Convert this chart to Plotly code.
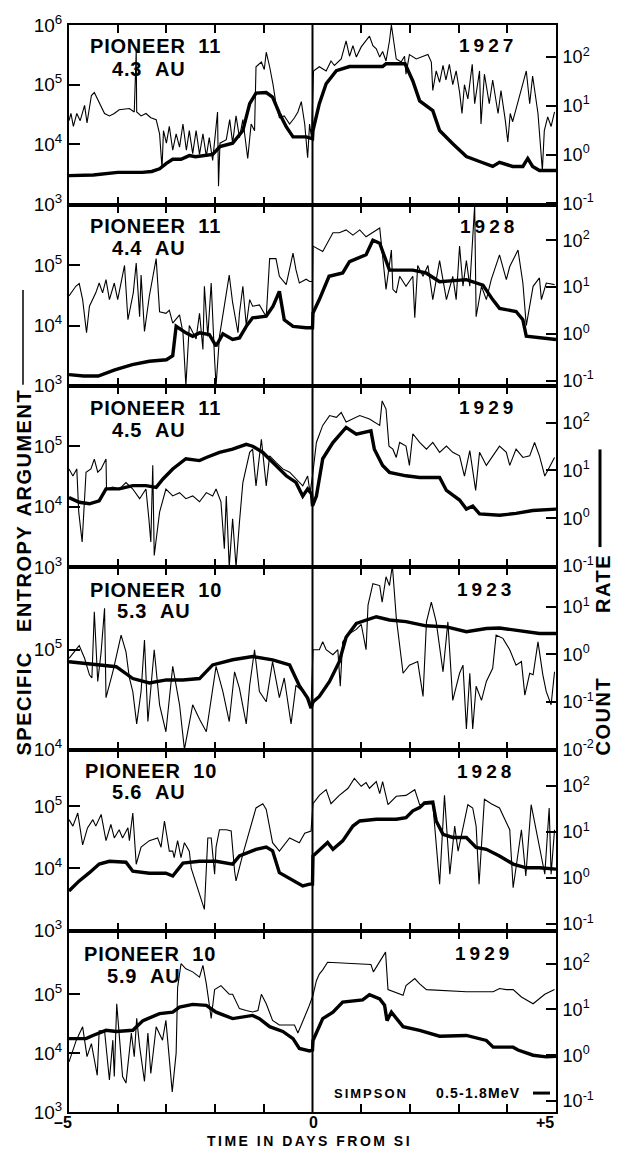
import plotly.graph_objects as go

# ---------------- data ----------------
craft = ["PIONEER 11", "PIONEER 11", "PIONEER 11", "PIONEER 10", "PIONEER 10", "PIONEER 10"]
dist = ["4.3  AU", "4.4  AU", "4.5  AU", "5.3  AU", "5.6  AU", "5.9  AU"]
years = ["1927", "1928", "1929", "1923", "1928", "1929"]

left_exps = [[3, 4, 5, 6], [3, 4, 5], [3, 4, 5], [4, 5], [3, 4, 5], [3, 4, 5]]
right_exps = [[-1, 0, 1, 2], [-1, 0, 1, 2], [-1, 0, 1, 2], [-2, -1, 0, 1], [-1, 0, 1, 2], [-1, 0, 1, 2]]
x_labels = ["\u20135", "0", "+5"]

# (days from SI, specific entropy argument)  -- thin line, left axis
p1_entropy = [(-5.0,2.5e4),(-4.96,3.3e4),(-4.91,2e4),(-4.84,3.3e4),(-4.77,2.5e4),(-4.68,4.5e4),(-4.63,2.3e4),(-4.54,6.6e4),(-4.48,7.4e4),(-4.37,4.8e4),(-4.27,3.3e4),(-4.17,3e4),(-4.07,3.3e4),(-3.97,3.8e4),(-3.76,4e4),(-3.66,3.5e4),(-3.62,3.7e5),(-3.61,3.5e4),(-3.52,3e4),(-3.42,3.3e4),(-3.32,2.8e4),(-3.21,2.6e4),(-3.14,1.5e4),(-3.09,4e3),(-3.06,1.7e4),(-3.0,1.05e4),(-2.94,2e4),(-2.87,8e3),(-2.8,1.5e4),(-2.73,9e3),(-2.66,2.2e4),(-2.59,8e3),(-2.53,1.7e4),(-2.46,7e3),(-2.39,1.7e4),(-2.32,6.8e3),(-2.25,1.5e4),(-2.18,6.3e3),(-2.12,1.3e4),(-2.05,5.4e3),(-1.98,1.7e4),(-1.95,3.5e4),(-1.93,2e3),(-1.9,1.05e4),(-1.77,1.2e4),(-1.7,2.6e4),(-1.64,1.05e4),(-1.57,3e4),(-1.5,1.3e4),(-1.43,2.6e4),(-1.33,5.8e3),(-1.26,2.2e4),(-1.19,1.7e4),(-1.16,2e5),(-1.05,2.4e5),(-0.99,1.8e5),(-0.95,3.5e5),(-0.88,2e5),(-0.81,1e5),(-0.75,4.8e4),(-0.68,2.8e4),(-0.58,3e4),(-0.47,2.2e4),(-0.37,2.8e4),(-0.3,3.5e4),(-0.23,5.2e4),(-0.16,2.2e4),(-0.1,6e3),(-0.06,2.2e4),(-0.02,1.3e4),(0.02,1.7e5),(0.14,2e5),(0.28,1.7e5),(0.38,2.5e5),(0.45,2.1e5),(0.59,2.7e5),(0.69,5.4e5),(0.76,3e5),(0.83,4.5e5),(0.9,2.9e5),(1.0,4.3e5),(1.1,5.4e5),(1.17,6.5e5),(1.24,4.5e5),(1.31,4e5),(1.38,2.9e5),(1.44,3.6e5),(1.51,2.5e5),(1.58,5.4e5),(1.62,1e6),(1.66,5.4e5),(1.72,2.7e5),(1.82,2.4e5),(1.89,3e5),(1.92,1.5e5),(1.99,3.2e5),(2.13,2.7e5),(2.27,3e5),(2.37,3.2e5),(2.44,2.4e5),(2.47,8e4),(2.54,1.7e5),(2.61,1.1e5),(2.68,2.1e5),(2.74,1.2e5),(2.81,2.2e5),(2.88,1e5),(2.95,1.7e5),(3.02,7.5e4),(3.07,3.3e4),(3.12,1e5),(3.19,5.8e4),(3.28,2.2e5),(3.33,4.8e4),(3.43,1.7e5),(3.46,2.2e4),(3.53,1.5e5),(3.63,4.8e4),(3.7,1.2e5),(3.81,3.3e4),(3.87,8e4),(3.96,2.5e4),(4.01,1.1e4),(4.06,3.3e4),(4.11,2.4e4),(4.39,1.7e5),(4.46,4.8e4),(4.52,1.4e5),(4.63,3.3e4),(4.72,3.7e3),(4.76,1.7e4),(4.83,2.9e4),(4.9,2e4),(4.97,3.5e4)]
# (days from SI, count rate)  -- thick line, right axis
p1_rate = [(-5.0,0.37),(-4.5,0.38),(-4.0,0.43),(-3.5,0.43),(-3.3,0.45),(-3.14,0.51),(-3.0,0.66),(-2.87,0.8),(-2.7,0.8),(-2.53,0.95),(-2.4,0.9),(-2.2,0.95),(-2.05,1.0),(-1.9,1.45),(-1.64,1.7),(-1.43,3.1),(-1.29,11),(-1.16,18),(-0.95,18.5),(-0.82,15),(-0.68,7),(-0.54,3.7),(-0.4,2.3),(-0.13,2.3),(0.0,2.1),(0.01,3.1),(0.14,11),(0.28,28),(0.49,52),(0.76,63),(1.44,63),(1.51,72),(1.9,72),(2.06,32),(2.2,12.5),(2.47,7.9),(2.61,3.1),(2.88,1.66),(3.16,0.91),(3.43,0.72),(3.7,0.57),(3.84,0.69),(4.11,0.57),(4.32,0.57),(4.42,0.83),(4.52,0.57),(4.66,0.47),(5.0,0.47)]

p2_entropy = [(-5.0,3.1e4),(-4.86,4.5e4),(-4.79,5e4),(-4.72,2.7e4),(-4.64,7.6e3),(-4.58,2.1e4),(-4.45,3.5e4),(-4.38,5.1e4),(-4.31,3.5e4),(-4.24,5.8e4),(-4.17,2.7e4),(-4.07,5.1e4),(-4.0,2.7e4),(-3.86,1e5),(-3.79,1.25e4),(-3.68,3.5e4),(-3.62,1.1e5),(-3.55,1.4e4),(-3.52,6.9e4),(-3.45,8e3),(-3.35,3.1e4),(-3.21,1.3e5),(-3.14,1.7e4),(-3.01,1.6e4),(-2.94,1.8e4),(-2.87,1.1e4),(-2.73,1.5e4),(-2.66,7.6e3),(-2.6,1e3),(-2.53,1e4),(-2.39,6e3),(-2.32,1.6e4),(-2.25,4e3),(-2.22,4.5e4),(-2.15,6.6e3),(-2.08,5.1e4),(-2.01,2.7e3),(-1.98,1e3),(-1.91,6.6e3),(-1.71,6.9e4),(-1.64,2.4e4),(-1.53,7.6e3),(-1.5,1.6e4),(-1.43,4.5e4),(-1.36,1e4),(-1.29,2.7e4),(-1.23,2.1e4),(-1.09,2.2e4),(-0.95,1.4e4),(-0.88,1.3e5),(-0.75,1.3e5),(-0.68,6.6e4),(-0.54,4.8e4),(-0.4,1.6e5),(-0.34,8.5e4),(-0.27,5.1e4),(-0.13,5.9e4),(-0.06,5.4e4),(0.0,5.4e4),(0.01,2.1e5),(0.21,1.7e5),(0.28,2.2e5),(0.42,3.5e5),(0.55,3.5e5),(0.69,3.9e5),(0.83,3.2e5),(0.97,3.9e5),(1.1,3e5),(1.24,3.5e5),(1.38,4.2e5),(1.51,4e4),(1.62,1.8e5),(1.65,4e4),(1.72,3.5e4),(1.79,6.6e4),(1.92,4.5e4),(2.06,6.6e4),(2.1,1.35e4),(2.16,1e5),(2.27,6.6e4),(2.37,1e5),(2.47,2.7e4),(2.61,1.2e5),(2.75,2.7e4),(2.88,6.6e4),(2.95,2.7e4),(3.02,2.1e5),(3.09,4.5e4),(3.16,1.2e5),(3.23,4.5e4),(3.33,1e6),(3.36,1.4e4),(3.47,4.5e4),(3.57,2.7e4),(3.67,5.8e4),(3.84,1.5e5),(3.98,5.8e4),(4.05,9.6e4),(4.22,1.8e5),(4.32,5.1e4),(4.39,1e4),(4.53,4.5e4),(4.66,6.2e4),(4.7,2.7e4),(4.8,5.1e4),(4.97,4.8e4)]
p2_rate = [(-5.0,0.135),(-4.7,0.126),(-4.4,0.126),(-4.06,0.17),(-3.7,0.22),(-3.35,0.26),(-3.0,0.28),(-2.87,0.34),(-2.8,1.45),(-2.6,1.05),(-2.46,0.89),(-2.32,1.05),(-2.12,0.97),(-1.98,0.55),(-1.84,1.0),(-1.64,0.76),(-1.5,0.82),(-1.36,1.45),(-1.23,2.2),(-0.95,2.4),(-0.81,3.9),(-0.68,8.1),(-0.58,2.0),(-0.4,1.45),(-0.13,1.35),(0.0,1.35),(0.01,2.8),(0.14,5.4),(0.34,17),(0.62,20),(0.76,35),(1.1,49),(1.24,100),(1.38,86),(1.58,23),(2.06,23),(2.33,20),(2.61,13),(3.16,14.4),(3.5,11),(3.7,5.4),(3.84,3.5),(4.18,3.0),(4.32,2.0),(4.39,0.89),(4.66,0.82),(5.0,0.76)]

p3_entropy = [(-5.0,4.2e4),(-4.92,3.2e4),(-4.84,4.2e4),(-4.8,8.1e3),(-4.73,2.6e3),(-4.65,3.7e4),(-4.55,4.2e4),(-4.48,6.1e4),(-4.41,3.7e4),(-4.34,4.2e4),(-4.24,6.1e4),(-4.23,1.95e4),(-4.1,2.1e4),(-3.97,1.95e4),(-3.83,2.5e4),(-3.69,1.95e4),(-3.55,1.35e4),(-3.42,1.95e4),(-3.36,6.3e3),(-3.32,2.6e3),(-3.28,4.8e4),(-3.25,1.55e3),(-3.14,8.1e3),(-3.01,1.95e4),(-2.87,1.5e4),(-2.73,1.7e4),(-2.6,1.35e4),(-2.46,1.5e4),(-2.32,1.2e4),(-2.18,1.7e4),(-2.05,1.5e4),(-1.98,1.95e4),(-1.88,1.2e4),(-1.81,2e3),(-1.77,1.5e4),(-1.71,1e3),(-1.64,6.3e3),(-1.57,1e3),(-1.5,5.5e3),(-1.43,2.5e4),(-1.29,7.9e4),(-1.23,8.9e4),(-1.16,2.2e4),(-1.05,1.3e5),(-0.95,2.2e4),(-0.88,6.9e4),(-0.75,5.4e4),(-0.61,4.2e4),(-0.47,3.7e4),(-0.34,2.9e4),(-0.2,2.2e4),(-0.1,3.2e4),(-0.05,1.7e4),(0.0,3.2e4),(0.08,1.15e5),(0.21,2.2e5),(0.35,3.2e5),(0.49,3e5),(0.59,3.6e5),(0.69,2.5e5),(0.97,3.2e5),(1.17,2.8e5),(1.38,2.2e5),(1.43,5.6e5),(1.51,4.1e5),(1.57,1e5),(1.65,8.9e4),(1.72,6.5e4),(1.79,1.15e5),(1.92,1e5),(1.99,4.8e4),(2.06,1.6e5),(2.2,1.15e5),(2.34,8.9e4),(2.47,1.15e5),(2.61,7.9e4),(2.75,1e5),(2.88,7.9e4),(3.02,6.9e4),(3.12,3.2e4),(3.23,8.4e4),(3.35,1.85e4),(3.43,7.9e4),(3.57,4.8e4),(3.7,6.9e4),(3.84,1e5),(3.98,7.9e4),(4.05,4.8e4),(4.18,8.9e4),(4.32,6.5e4),(4.46,6.9e4),(4.56,1.15e5),(4.66,6.9e4),(4.77,3.2e4),(4.97,6.5e4)]
p3_rate = [(-5.0,2.7),(-4.79,2.15),(-4.58,2.0),(-4.38,2.3),(-4.24,4.1),(-3.97,4.1),(-3.69,4.8),(-3.42,4.8),(-3.21,4.4),(-3.07,6.6),(-2.87,10.7),(-2.6,17.5),(-2.32,16),(-2.18,18.6),(-1.91,23.7),(-1.64,27.7),(-1.36,35),(-1.23,32),(-1.02,23.7),(-0.81,14.7),(-0.54,7.7),(-0.34,5.6),(-0.2,2.9),(-0.1,4.1),(-0.05,3.5),(-0.02,3.2),(0.0,1.8),(0.08,2.9),(0.21,17.5),(0.42,38),(0.69,79),(0.9,57),(1.2,67),(1.27,27.7),(1.44,12.6),(1.58,9.1),(1.92,7.7),(2.2,7.1),(2.61,7.1),(2.75,3.8),(3.02,2.4),(3.16,1.55),(3.29,1.8),(3.43,1.23),(3.84,1.15),(4.18,1.26),(4.52,1.45),(5.0,1.55)]

p4_entropy = [(-5.0,8.2e4),(-4.89,9.5e4),(-4.79,1.1e5),(-4.68,8.2e4),(-4.58,5.6e4),(-4.53,5.2e4),(-4.48,2.4e5),(-4.41,4.8e4),(-4.34,9.5e4),(-4.27,2.6e5),(-4.24,3.3e4),(-4.1,6e4),(-3.93,1.4e5),(-3.83,9.5e4),(-3.76,5.2e4),(-3.69,3.8e4),(-3.61,1.8e4),(-3.52,3.8e4),(-3.45,1.25e5),(-3.38,1.9e4),(-3.25,1e5),(-3.14,2.8e4),(-3.01,1.5e4),(-2.87,6.8e4),(-2.73,2.8e4),(-2.63,1e4),(-2.46,2.8e4),(-2.32,2e4),(-2.18,1.5e4),(-1.98,6.8e4),(-1.84,3.8e4),(-1.71,1.9e4),(-1.6,6e4),(-1.5,4.1e4),(-1.36,1.8e4),(-1.29,4.4e4),(-1.19,1e5),(-1.09,3.8e4),(-0.95,3e4),(-0.82,7.6e4),(-0.68,3.3e4),(-0.58,5.2e4),(-0.44,1.8e4),(-0.34,4.4e4),(-0.2,3.8e4),(-0.1,3.3e4),(-0.03,2.6e4),(0.01,1e5),(0.14,1e5),(0.21,1.2e5),(0.28,1e5),(0.42,8.9e4),(0.52,1e5),(0.57,4.3e4),(0.62,1.2e5),(0.76,1.45e5),(0.9,1.6e5),(1.0,1.8e5),(1.07,1.2e5),(1.1,1e5),(1.14,2.8e5),(1.24,4.6e5),(1.38,4.4e5),(1.43,3e5),(1.51,5.4e5),(1.58,4.4e5),(1.64,7e5),(1.72,2.1e5),(1.86,5.8e4),(1.99,7e4),(2.16,7.6e4),(2.27,3.4e4),(2.34,1.9e5),(2.44,3e5),(2.54,1.9e5),(2.68,6e4),(2.78,1.9e5),(2.88,3.1e4),(3.02,5.8e4),(3.09,7e4),(3.16,1.6e4),(3.23,5.8e4),(3.29,1.6e4),(3.36,4.3e4),(3.47,3.1e4),(3.57,4.8e4),(3.7,6.5e4),(3.77,1.4e5),(3.91,1.3e5),(4.05,1e5),(4.18,7e4),(4.29,7.6e4),(4.36,3.5e4),(4.46,5.8e4),(4.53,5.6e4),(4.63,1.2e5),(4.73,5.6e4),(4.8,3.8e4),(4.9,2.8e4),(4.97,6e4)]
p4_rate = [(-5.0,0.7),(-4.72,0.65),(-4.38,0.6),(-4.03,0.55),(-3.69,0.31),(-3.35,0.25),(-3.0,0.29),(-2.66,0.29),(-2.32,0.31),(-2.05,0.6),(-1.64,0.77),(-1.23,0.9),(-0.82,0.77),(-0.47,0.6),(-0.27,0.22),(-0.1,0.12),(-0.03,0.074),(0.01,0.1),(0.14,0.13),(0.35,0.27),(0.55,0.7),(0.69,2.3),(0.9,4.5),(1.31,6.2),(1.58,5.3),(1.92,4.9),(2.33,4.0),(2.75,3.8),(3.16,3.0),(3.57,3.5),(3.84,3.6),(4.25,3.1),(4.66,2.75),(5.0,2.75)]

p5_entropy = [(-5.0,6.1e4),(-4.92,4.8e4),(-4.82,7.8e4),(-4.75,3.1e4),(-4.72,2.4e4),(-4.62,4.5e4),(-4.51,6.1e4),(-4.45,4.8e4),(-4.34,7.4e4),(-4.24,2.8e4),(-4.14,5.1e4),(-4.07,3.1e4),(-3.97,4.2e4),(-3.9,3.1e4),(-3.79,4.5e4),(-3.76,2.8e4),(-3.69,7.8e4),(-3.62,1.17e4),(-3.52,2.2e4),(-3.35,2.8e4),(-3.18,3.1e4),(-3.11,2.2e4),(-3.04,5.8e4),(-2.94,1.9e4),(-2.87,1.9e4),(-2.84,1.5e4),(-2.77,2.8e4),(-2.7,1.5e4),(-2.63,2.6e4),(-2.53,1.9e4),(-2.49,1e4),(-2.22,2.2e3),(-2.15,3.1e4),(-2.08,3.1e4),(-2.01,8.1e3),(-1.98,2.2e4),(-1.91,4.2e4),(-1.77,4.2e4),(-1.67,4e4),(-1.6,9.1e3),(-1.57,6.3e3),(-1.43,1.7e4),(-1.16,9.4e4),(-1.02,1.1e5),(-0.95,8.9e4),(-0.82,2.6e4),(-0.68,1.9e4),(-0.47,3.1e4),(-0.27,2.6e4),(-0.16,3.7e4),(-0.03,4e4),(0.01,1.1e5),(0.14,1.5e5),(0.28,1.85e5),(0.38,1.1e5),(0.55,1.5e5),(0.73,1.95e5),(0.86,2.8e5),(1.0,2.1e5),(1.1,2.4e5),(1.17,1.95e5),(1.31,2.5e5),(1.38,1.6e5),(1.44,2.5e5),(1.55,1.06e5),(1.72,1.45e5),(1.92,1.5e5),(2.1,1.85e5),(2.2,1.06e5),(2.47,1.1e5),(2.61,5.6e3),(2.71,1.5e5),(2.82,8.1e3),(2.92,4.8e4),(2.99,1.9e4),(3.19,1.06e5),(3.29,9.4e4),(3.36,4.8e4),(3.42,5.6e3),(3.53,1.3e5),(3.67,1.1e5),(3.84,9.4e4),(4.05,4.2e4),(4.12,4.9e3),(4.29,4.2e4),(4.38,7.6e3),(4.49,1.06e5),(4.77,8.1e3),(4.86,9.4e4),(4.9,8.1e3),(4.97,4.2e4)]
p5_rate = [(-5.0,0.52),(-4.79,0.86),(-4.58,1.3),(-4.38,2.0),(-4.17,2.3),(-3.83,2.2),(-3.69,1.4),(-3.35,1.26),(-3.01,1.26),(-2.87,1.1),(-2.66,2.1),(-2.32,2.3),(-1.98,2.3),(-1.64,2.0),(-1.5,3.0),(-1.16,4.2),(-0.95,4.7),(-0.82,3.9),(-0.68,1.3),(-0.4,0.86),(-0.2,0.67),(-0.06,0.73),(0.0,0.73),(0.01,3.0),(0.21,4.6),(0.31,5.9),(0.42,4.2),(0.62,6.4),(0.83,13.5),(0.97,17.4),(1.31,19),(1.72,19),(1.92,20.5),(2.06,29),(2.2,34),(2.3,43),(2.47,45),(2.54,17.4),(2.68,8.9),(2.88,7.6),(3.16,7.6),(3.36,4.6),(3.57,4.2),(3.84,3.0),(4.12,2.0),(4.39,1.66),(4.66,1.66),(5.0,1.55)]

p6_entropy = [(-5.0,7.1e3),(-4.85,1.66e4),(-4.72,2.8e4),(-4.63,8.7e3),(-4.54,1.45e4),(-4.42,4.2e3),(-4.38,2.4e4),(-4.27,2.4e4),(-4.17,3.5e3),(-4.1,1.66e4),(-4.07,4e3),(-4.02,6.9e4),(-3.96,1.66e4),(-3.9,4e3),(-3.83,3.1e3),(-3.72,2.2e4),(-3.66,8.7e3),(-3.61,3.9e4),(-3.55,1.3e4),(-3.45,3.3e3),(-3.38,2.2e4),(-3.32,4.5e3),(-3.21,2.8e4),(-3.08,1.66e4),(-3.01,3.6e4),(-2.88,2.2e3),(-2.8,1e4),(-2.77,1.3e5),(-2.7,3.3e5),(-2.6,2.7e5),(-2.46,2.4e5),(-2.32,1.95e5),(-2.25,3.1e5),(-2.18,1.5e5),(-2.08,3.9e4),(-2.01,1.2e5),(-1.88,1.4e5),(-1.71,1e5),(-1.64,1e5),(-1.5,5.7e4),(-1.36,5.3e4),(-1.23,5e4),(-1.12,5.3e4),(-1.05,1e5),(-0.95,6.9e4),(-0.82,3.6e4),(-0.68,3e4),(-0.37,3e4),(-0.3,2.2e4),(-0.16,4.1e4),(-0.08,6e4),(0.01,9.6e4),(0.08,1.7e5),(0.14,2.2e5),(0.21,2.6e5),(0.31,3.5e5),(0.55,3.4e5),(1.2,3.2e5),(1.25,2.4e5),(1.34,3.2e5),(1.5,5.2e5),(1.55,1.2e5),(1.86,9.6e4),(1.92,1.4e5),(2.1,1.85e5),(2.2,1.5e5),(2.34,1.2e5),(3.16,1.1e5),(3.71,1.1e5),(3.84,1.25e5),(3.98,1.2e5),(4.12,1.2e5),(4.29,9e4),(4.53,6.9e4),(4.66,8.4e4),(4.77,1e5),(4.97,1.2e5)]
p6_rate = [(-5.0,2.3),(-4.65,2.3),(-4.51,2.7),(-4.24,3.5),(-4.03,3.3),(-3.69,3.5),(-3.48,5.7),(-3.14,8.1),(-2.87,8.7),(-2.73,11.2),(-2.46,12.9),(-2.18,12.3),(-1.98,8.7),(-1.64,6.3),(-1.23,7.4),(-1.09,6.3),(-0.88,4.2),(-0.61,3.3),(-0.4,2.3),(-0.27,1.4),(-0.06,1.24),(0.0,1.3),(0.01,2.1),(0.21,6.3),(0.42,8.7),(0.62,14.5),(1.03,16.2),(1.17,21),(1.38,17),(1.48,12.3),(1.53,5.7),(1.62,8.7),(1.86,4.2),(2.2,3.5),(2.61,2.6),(3.16,2.7),(3.57,2.1),(3.71,1.5),(4.12,1.5),(4.22,1.3),(4.53,1.0),(4.8,0.92),(5.0,0.95)]

entropy_series = [p1_entropy, p2_entropy, p3_entropy, p4_entropy, p5_entropy, p6_entropy]
rate_series = [p1_rate, p2_rate, p3_rate, p4_rate, p5_rate, p6_rate]

# ---------------- layout geometry (pixels of the 618x1150 page) ----------------
W, H = 618, 1150
X0, X1 = 69, 556
EDGES = [21, 202, 383, 565, 749, 930, 1112]
left_range = [[2.98, 6.0], [3.0, 6.0], [3.0, 6.0], [3.99, 5.83], [3.0, 5.9], [3.0, 6.08]]
right_range = [[-1.04, 2.65], [-1.106, 2.745], [-1.02, 2.77], [-2.02, 1.84], [-1.15, 2.78], [-1.24, 2.72]]


def px(x):
    return (x - X0) / (X1 - X0)


def py(y):
    return (EDGES[-1] - y) / (EDGES[-1] - EDGES[0])


FONT = "Liberation Sans, Arial, sans-serif"
fig = go.Figure()
lay = {}
for i in range(6):
    xa = "x" if i == 0 else f"x{i+1}"
    yl = "y" if i == 0 else f"y{2*i+1}"
    yr = f"y{2*i+2}"
    t, v = zip(*entropy_series[i])
    fig.add_trace(go.Scatter(x=t, y=v, xaxis=xa, yaxis=yl, mode="lines",
                             line=dict(color="black", width=1.1), showlegend=False, hoverinfo="skip"))
    t, v = zip(*rate_series[i])
    fig.add_trace(go.Scatter(x=t, y=v, xaxis=xa, yaxis=yr, mode="lines",
                             line=dict(color="black", width=3.4), showlegend=False, hoverinfo="skip"))
    dom = [py(EDGES[i + 1]), py(EDGES[i])]
    lay["xaxis" if i == 0 else f"xaxis{i+1}"] = dict(
        domain=[0, 1], range=[-5, 5], anchor=yl, showline=True, linewidth=2, linecolor="black",
        mirror="ticks", ticks="inside", ticklen=8, tickwidth=1.5, tickcolor="black",
        tickvals=[-4, -3, -2, -1, 1, 2, 3, 4], showticklabels=False, showgrid=False, zeroline=False)
    lay["yaxis" if i == 0 else f"yaxis{2*i+1}"] = dict(
        domain=dom, type="log", range=left_range[i], anchor=xa, showline=True, linewidth=2,
        linecolor="black", ticks="inside", ticklen=11, tickwidth=1.5, tickcolor="black",
        tickvals=[10.0 ** e for e in left_exps[i]],
        ticktext=[f"10<sup>{e}</sup>" for e in left_exps[i]], ticklabelstandoff=1,
        tickfont=dict(family=FONT, size=19, color="black"), showgrid=False, zeroline=False)
    lay[f"yaxis{2*i+2}"] = dict(
        type="log", range=right_range[i], overlaying=yl, anchor=xa, side="right", showline=True,
        linewidth=2, linecolor="black", ticks="inside", ticklen=10, tickwidth=1.5, tickcolor="black",
        tickvals=[10.0 ** e for e in right_exps[i]],
        ticktext=[f"10<sup>{e}</sup>" for e in right_exps[i]], ticklabelstandoff=1,
        tickfont=dict(family=FONT, size=18, color="black"), showgrid=False, zeroline=False)

title_y = [42, 223, 405, 588, 770, 953]
dist_y = [65, 245, 427, 609, 791, 975]
craft_x = [88, 88, 88, 88, 83, 82]
dist_x = [110, 110, 110, 115, 110, 105]
year_x = [457, 458, 457, 455, 455, 453]

ann = []


def add_text(text, x, y, size, anchor="left", angle=0, spacing=0):
    style = f' style="letter-spacing:{spacing}px"' if spacing else ""
    ann.append(dict(text=f"<span{style}><b>{text}</b></span>", x=px(x), y=py(y), xref="paper",
                    yref="paper", xanchor=anchor, yanchor="middle", showarrow=False,
                    textangle=angle, font=dict(family=FONT, size=size, color="black")))


for i in range(6):
    add_text(craft[i].replace(" ", "\u00a0\u00a0"), craft_x[i], title_y[i], 20, spacing=0.8)
    add_text(dist[i].replace(" ", "\u00a0"), dist_x[i], dist_y[i], 20, spacing=0.8)
    add_text(years[i], year_x[i], title_y[i], 19, spacing=4)

add_text(x_labels[0], 63, 1123, 16, anchor="center")
add_text(x_labels[1], 313, 1123, 16, anchor="center")
add_text(x_labels[2], 545, 1123, 16, anchor="center")
add_text("TIME\u00a0IN\u00a0DAYS\u00a0FROM\u00a0SI", 309, 1141, 14, anchor="center", spacing=2.5)
add_text("SIMPSON", 332, 1093, 13, spacing=2)
add_text("0.5-1.8MeV", 434, 1093, 14, spacing=1.2)

add_text("SPECIFIC", 24, 702, 20, anchor="center", angle=-90, spacing=1.5)
add_text("ENTROPY", 24, 577, 20, anchor="center", angle=-90, spacing=1.5)
add_text("ARGUMENT", 24, 450, 20, anchor="center", angle=-90, spacing=1.5)
add_text("RATE", 603, 582, 20, anchor="center", angle=-90, spacing=1.5)
add_text("COUNT", 603, 715, 20, anchor="center", angle=-90, spacing=1.5)

shapes = [
    dict(type="line", xref="x", yref="paper", x0=0, x1=0, y0=0, y1=1, line=dict(color="black", width=2)),
    dict(type="line", xref="paper", yref="paper", x0=px(23), x1=px(23), y0=py(287), y1=py(382),
         line=dict(color="black", width=1.5)),
    dict(type="line", xref="paper", yref="paper", x0=px(600), x1=px(600), y0=py(447), y1=py(545),
         line=dict(color="black", width=3)),
    dict(type="line", xref="paper", yref="paper", x0=px(533), x1=px(550), y0=py(1093), y1=py(1093),
         line=dict(color="black", width=3)),
]

fig.update_layout(width=W, height=H, margin=dict(l=X0, r=W - X1, t=EDGES[0], b=H - EDGES[-1]),
                  paper_bgcolor="white", plot_bgcolor="white", showlegend=False,
                  annotations=ann, shapes=shapes, **lay)
fig.write_html("out.html", config={"displayModeBar": False},
               post_script="document.body.style.margin='0';document.body.style.overflow='hidden';")
